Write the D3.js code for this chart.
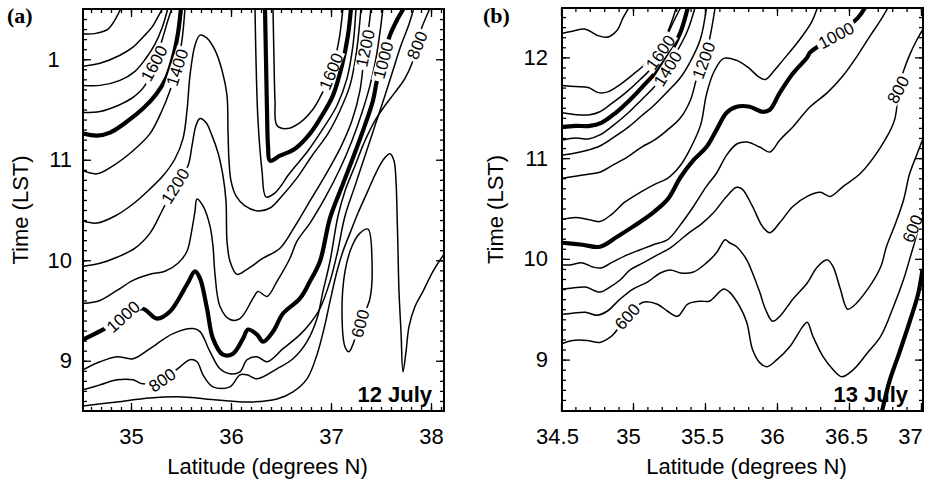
<!DOCTYPE html>
<html>
<head>
<meta charset="utf-8">
<script src="https://cdn.jsdelivr.net/npm/d3@7"></script>
<style>
  body { margin: 0; background: #fff; }
  svg text { font-family: "Liberation Sans", Arial, Helvetica, sans-serif; }
</style>
</head>
<body>
<script>
// ---------- data (latitude, time) ----------
var latMajorA = [35, 36, 37, 38];
var latLabelsA = ["35", "36", "37", "38"];
var latMajorB = [34.5, 35, 35.5, 36, 36.5, 37];
var latLabelsB = ["34.5", "35", "35.5", "36", "36.5", "37"];
var timeMajor = [9, 10, 11, 12];
var timeLabelsA = ["9", "10", "11", "1"];
var timeLabelsB = ["9", "10", "11", "12"];

// panel (a) 12 July contours
var a1900 = [[34.52,12.25],[34.66,12.26],[34.77,12.30],[34.85,12.41],[34.90,12.51]];
var a1800 = [[34.52,11.93],[34.69,11.96],[34.89,12.04],[35.02,12.12],[35.12,12.22],[35.21,12.32],[35.29,12.46],[35.32,12.51]];
var a1700 = [[34.52,11.74],[34.69,11.74],[34.89,11.79],[35.04,11.88],[35.15,12.01],[35.24,12.15],[35.31,12.31],[35.37,12.51]];
var a1600 = [[34.52,11.47],[34.69,11.48],[34.87,11.54],[35.02,11.62],[35.14,11.74],[35.23,11.96],[35.31,12.19],[35.37,12.39],[35.41,12.51]];
var a1500 = [[34.52,11.26],[34.66,11.24],[34.79,11.27],[34.96,11.38],[35.12,11.51],[35.25,11.65],[35.35,11.81],[35.42,12.02],[35.47,12.26],[35.50,12.51]];
var a1400 = [[34.52,10.89],[34.66,10.86],[34.82,10.94],[35.02,11.09],[35.19,11.26],[35.31,11.49],[35.39,11.69],[35.46,11.92],[35.51,12.19],[35.54,12.51]];
var a1300 = [[34.52,10.39],[34.66,10.37],[34.84,10.44],[35.02,10.56],[35.19,10.71],[35.32,10.84],[35.44,11.01],[35.52,11.21],[35.56,11.49],[35.59,11.84],[35.64,12.14],[35.69,12.24],[35.76,12.21],[35.84,12.09],[35.91,11.89],[35.96,11.64],[35.97,11.29],[35.98,10.99],[36.00,10.79],[36.05,10.64],[36.14,10.54],[36.27,10.49],[36.39,10.52],[36.51,10.64],[36.66,10.82],[36.81,11.04],[36.97,11.26],[37.09,11.49],[37.19,11.74],[37.25,12.04],[37.28,12.29],[37.30,12.51]];
var a1200 = [[34.52,9.94],[34.69,9.97],[34.86,10.03],[35.04,10.12],[35.19,10.27],[35.31,10.49],[35.44,10.74],[35.57,10.94],[35.61,11.14],[35.65,11.34],[35.69,11.41],[35.75,11.37],[35.81,11.24],[35.87,11.07],[35.92,10.84],[35.95,10.59],[35.96,10.19],[35.99,9.99],[36.06,9.86],[36.16,9.91],[36.32,10.02],[36.49,10.12],[36.64,10.34],[36.79,10.59],[36.94,10.84],[37.09,11.11],[37.21,11.39],[37.29,11.69],[37.34,12.11],[37.38,12.34],[37.40,12.51]];
var a1100 = [[34.52,9.57],[34.69,9.60],[34.86,9.70],[35.02,9.80],[35.19,9.86],[35.34,9.89],[35.47,9.97],[35.56,10.09],[35.61,10.31],[35.64,10.49],[35.66,10.61],[35.72,10.54],[35.79,10.34],[35.82,10.14],[35.84,9.86],[35.89,9.54],[35.99,9.41],[36.09,9.42],[36.22,9.62],[36.27,9.69],[36.36,9.64],[36.46,9.79],[36.59,10.02],[36.66,10.19],[36.79,10.37],[36.94,10.62],[37.09,10.91],[37.21,11.19],[37.31,11.47],[37.39,11.74],[37.45,12.01],[37.49,12.27],[37.52,12.51]];
var a1000 = [[34.52,9.21],[34.72,9.31],[34.92,9.42],[35.11,9.52],[35.26,9.42],[35.39,9.49],[35.56,9.76],[35.64,9.89],[35.69,9.82],[35.76,9.52],[35.82,9.22],[35.92,9.06],[36.02,9.07],[36.12,9.22],[36.17,9.31],[36.26,9.26],[36.32,9.19],[36.42,9.29],[36.52,9.47],[36.69,9.62],[36.79,9.79],[36.89,9.99],[36.99,10.42],[37.12,10.76],[37.22,11.02],[37.32,11.29],[37.42,11.59],[37.46,11.79],[37.52,11.99],[37.59,12.24],[37.66,12.39],[37.73,12.51]];
var a900 = [[34.52,8.91],[34.69,8.99],[34.86,9.04],[35.02,9.02],[35.19,9.12],[35.42,9.27],[35.62,9.32],[35.69,9.29],[35.79,9.09],[35.89,8.92],[35.99,8.87],[36.09,8.89],[36.16,9.01],[36.26,9.04],[36.36,8.99],[36.52,9.12],[36.69,9.26],[36.79,9.37],[36.89,9.52],[36.99,9.79],[37.06,10.06],[37.14,10.44],[37.24,10.74],[37.34,11.04],[37.44,11.34],[37.54,11.64],[37.62,11.89],[37.70,12.14],[37.77,12.32],[37.83,12.51]];
var a800 = [[34.52,8.71],[34.69,8.76],[34.86,8.81],[35.02,8.81],[35.12,8.77],[35.31,8.81],[35.49,8.94],[35.59,9.01],[35.66,8.99],[35.72,8.86],[35.82,8.74],[35.99,8.74],[36.09,8.86],[36.16,8.86],[36.26,8.82],[36.46,8.92],[36.62,9.02],[36.76,9.19],[36.86,9.42],[36.92,9.69],[36.99,9.99],[37.07,10.44],[37.14,10.69],[37.24,10.94],[37.34,11.19],[37.44,11.39],[37.54,11.54],[37.64,11.67],[37.74,11.81],[37.81,11.96],[37.86,12.14],[37.91,12.32],[37.96,12.44],[37.99,12.51]];
var a700 = [[34.52,8.55],[34.86,8.59],[35.19,8.63],[35.52,8.64],[35.86,8.61],[36.19,8.59],[36.46,8.62],[36.62,8.69],[36.76,8.82],[36.86,9.06],[36.94,9.36],[36.99,9.59],[37.06,9.89],[37.12,10.09],[37.19,10.27],[37.27,10.47],[37.36,10.67],[37.45,10.87],[37.53,11.01],[37.59,11.06],[37.63,10.99],[37.65,10.79],[37.66,10.49],[37.67,10.09],[37.68,9.69],[37.70,9.29],[37.72,8.89],[37.75,9.09],[37.78,9.34],[37.84,9.54],[37.92,9.69],[38.02,9.89],[38.13,10.06]];
var a600 = [[37.37,10.31],[37.41,9.99],[37.39,9.62],[37.29,9.37],[37.21,9.14],[37.18,9.09],[37.14,9.14],[37.11,9.49],[37.14,9.89],[37.21,10.14],[37.29,10.27]];
var a1500v = [[36.34,12.51],[36.35,11.99],[36.36,11.49],[36.37,11.14],[36.39,10.99],[36.49,11.04],[36.64,11.11],[36.79,11.26],[36.91,11.44],[37.02,11.64],[37.11,11.94],[37.17,12.24],[37.20,12.51]];
var a1600v = [[36.42,12.51],[36.43,11.99],[36.44,11.59],[36.46,11.34],[36.56,11.31],[36.69,11.37],[36.81,11.49],[36.89,11.62],[36.97,11.79],[37.00,11.88],[37.03,11.97],[37.08,12.19],[37.12,12.51]];
var a1400v = [[36.24,12.51],[36.25,11.99],[36.27,11.39],[36.31,10.89],[36.35,10.63],[36.44,10.67],[36.59,10.87],[36.77,11.09],[36.92,11.31],[37.06,11.54],[37.16,11.81],[37.22,12.14],[37.25,12.51]];
var labelsA = [
  [35.23, 11.96, -62, "1600"], [35.46, 11.92, -72, "1400"], [35.44, 10.74, -58, "1200"],
  [37.00, 11.88, -68, "1600"], [37.34, 12.11, -78, "1200"], [37.52, 11.99, -75, "1000"],
  [37.86, 12.14, -68, "800"], [34.92, 9.44, -42, "1000"], [35.31, 8.81, -35, "800"],
  [37.29, 9.37, -75, "600"]
];

// panel (b) 13 July contours
var b1800 = [[34.51,12.24],[34.58,12.26],[34.67,12.28],[34.75,12.22],[34.82,12.20],[34.89,12.27],[34.93,12.39],[34.97,12.49]];
var b1700 = [[34.51,11.72],[34.60,11.71],[34.69,11.70],[34.76,11.65],[34.83,11.66],[34.91,11.73],[35.00,11.83],[35.09,11.94],[35.17,12.07],[35.24,12.25],[35.30,12.49]];
var b1600 = [[34.51,11.45],[34.61,11.43],[34.70,11.43],[34.77,11.46],[34.85,11.54],[34.95,11.65],[35.05,11.78],[35.13,11.90],[35.20,12.09],[35.27,12.32],[35.33,12.49]];
var b1500 = [[34.51,11.31],[34.60,11.32],[34.70,11.32],[34.78,11.35],[34.88,11.45],[34.98,11.58],[35.08,11.73],[35.17,11.87],[35.26,12.05],[35.33,12.25],[35.38,12.49]];
var b1400 = [[34.51,11.18],[34.60,11.20],[34.69,11.19],[34.77,11.23],[34.85,11.31],[34.96,11.44],[35.06,11.58],[35.15,11.71],[35.22,11.85],[35.31,12.07],[35.38,12.27],[35.43,12.49]];
var b1300 = [[34.51,11.03],[34.60,11.05],[34.69,11.08],[34.77,11.12],[34.86,11.20],[34.97,11.31],[35.06,11.42],[35.15,11.53],[35.24,11.66],[35.33,11.80],[35.41,11.99],[35.47,12.19],[35.51,12.49]];
var b1200 = [[34.51,10.80],[34.60,10.82],[34.69,10.84],[34.77,10.86],[34.86,10.93],[34.96,11.01],[35.06,11.11],[35.15,11.18],[35.24,11.28],[35.33,11.40],[35.40,11.58],[35.44,11.78],[35.49,11.97],[35.53,12.17],[35.57,12.49]];
var b1100 = [[34.51,10.39],[34.60,10.41],[34.69,10.39],[34.77,10.37],[34.85,10.44],[34.94,10.56],[35.05,10.66],[35.15,10.74],[35.24,10.80],[35.33,10.93],[35.40,11.10],[35.47,11.33],[35.51,11.63],[35.56,11.85],[35.63,11.99],[35.72,11.97],[35.80,11.90],[35.87,11.81],[35.92,11.78],[35.97,11.85],[36.04,11.97],[36.11,12.09],[36.18,12.22],[36.24,12.35],[36.28,12.49]];
var b1000 = [[34.51,10.16],[34.65,10.14],[34.77,10.12],[34.89,10.22],[35.00,10.32],[35.14,10.46],[35.24,10.59],[35.33,10.81],[35.42,10.98],[35.51,11.11],[35.58,11.28],[35.65,11.45],[35.72,11.51],[35.81,11.51],[35.90,11.46],[35.95,11.48],[36.02,11.65],[36.11,11.84],[36.21,12.00],[36.23,12.05],[36.41,12.22],[36.56,12.39],[36.61,12.49]];
var b900 = [[34.51,9.94],[34.56,9.94],[34.65,9.96],[34.72,9.92],[34.78,9.91],[34.86,9.97],[34.96,10.04],[35.05,10.09],[35.14,10.14],[35.24,10.19],[35.33,10.34],[35.42,10.52],[35.51,10.72],[35.58,10.85],[35.65,11.03],[35.72,11.14],[35.79,11.16],[35.88,11.11],[35.95,11.06],[36.02,11.18],[36.11,11.31],[36.23,11.51],[36.35,11.65],[36.46,11.82],[36.56,12.02],[36.65,12.22],[36.72,12.37],[36.77,12.49]];
var b800 = [[34.51,9.70],[34.58,9.71],[34.67,9.72],[34.77,9.67],[34.84,9.72],[34.91,9.79],[34.98,9.89],[35.07,9.96],[35.17,10.04],[35.26,10.11],[35.33,10.19],[35.40,10.27],[35.47,10.34],[35.56,10.46],[35.65,10.62],[35.72,10.71],[35.76,10.69],[35.83,10.52],[35.90,10.32],[35.95,10.26],[36.02,10.36],[36.11,10.52],[36.21,10.62],[36.30,10.66],[36.37,10.62],[36.46,10.72],[36.58,10.85],[36.72,11.11],[36.81,11.35],[36.83,11.48],[36.84,11.68],[36.88,11.87],[36.92,12.02],[36.97,12.17],[37.01,12.27]];
var b700 = [[34.51,9.45],[34.58,9.46],[34.67,9.47],[34.75,9.44],[34.82,9.48],[34.91,9.60],[35.00,9.70],[35.10,9.77],[35.19,9.86],[35.26,9.89],[35.33,9.86],[35.42,9.87],[35.51,9.96],[35.58,10.06],[35.64,10.19],[35.67,10.16],[35.72,10.12],[35.79,9.99],[35.83,9.86],[35.88,9.67],[35.92,9.50],[35.97,9.38],[36.02,9.43],[36.11,9.60],[36.21,9.76],[36.28,9.92],[36.35,9.99],[36.39,9.92],[36.44,9.70],[36.49,9.50],[36.53,9.53],[36.63,9.70],[36.72,9.92],[36.76,10.12],[36.82,10.34],[36.88,10.59],[36.92,10.84],[36.97,11.03],[37.01,11.18]];
var b600 = [[34.51,9.16],[34.58,9.19],[34.68,9.19],[34.77,9.17],[34.84,9.22],[34.87,9.26],[34.96,9.43],[35.07,9.57],[35.17,9.55],[35.24,9.48],[35.31,9.43],[35.38,9.55],[35.47,9.58],[35.53,9.58],[35.63,9.70],[35.67,9.67],[35.74,9.53],[35.79,9.37],[35.83,9.10],[35.88,8.97],[35.93,8.93],[36.00,9.00],[36.09,9.13],[36.18,9.33],[36.21,9.37],[36.25,9.23],[36.32,9.03],[36.39,8.90],[36.45,8.83],[36.53,8.90],[36.63,9.07],[36.72,9.23],[36.81,9.53],[36.88,9.80],[36.92,9.99],[36.97,10.24],[37.01,10.47]];
var b500 = [[36.73,8.49],[36.78,8.78],[36.85,9.07],[36.92,9.37],[36.98,9.65],[37.01,9.89]];
var labelsB = [
  [35.19, 12.05, -55, "1600"], [35.24, 11.89, -58, "1400"], [35.49, 11.97, -70, "1200"],
  [36.41, 12.22, -28, "1000"], [36.84, 11.68, -62, "800"], [34.96, 9.43, -48, "600"],
  [36.94, 10.30, -68, "600"]
];

// ---------- drawing ----------
var svg = d3.select("body").append("svg").attr("width", 926).attr("height", 484);
var defs = svg.append("defs");

var panels = [
  { id: "a", left: 83, right: 444, top: 9, bottom: 411, lat: [34.52, 38.13], time: [8.5, 12.5],
    major: latMajorA, majorLabels: latLabelsA, labelShift: [0, 0, 0, 0],
    timeLabels: timeLabelsA, yPad: 11, yTitle: 28,
    title: "(a)", titleX: 7, date: "12 July", dateX: 432,
    lines: [a1900, a1800, a1700, a1600, a1400, a1300, a1200, a1100, a900, a800, a700, a1600v, a1400v],
    bold: [a1500, a1000, a1500v], closed: [a600], labels: labelsA },
  { id: "b", left: 562, right: 923, top: 8, bottom: 411, lat: [34.507, 37.014], time: [8.49, 12.49],
    major: latMajorB, majorLabels: latLabelsB, labelShift: [-4, -5, -3, -5, -3, -11],
    timeLabels: timeLabelsB, yPad: 14, yTitle: 503,
    title: "(b)", titleX: 483, date: "13 July", dateX: 908,
    lines: [b1800, b1700, b1600, b1400, b1300, b1200, b1100, b900, b800, b700, b600],
    bold: [b1500, b1000, b500], closed: [], labels: labelsB }
];

panels.forEach(function(p) {
  var x = d3.scaleLinear().domain(p.lat).range([p.left, p.right]);
  var y = d3.scaleLinear().domain(p.time).range([p.bottom, p.top]);
  var w = p.right - p.left, h = p.bottom - p.top;

  defs.append("clipPath").attr("id", "clip-" + p.id)
    .append("rect").attr("x", p.left).attr("y", p.top).attr("width", w).attr("height", h);

  // mask cuts the contour lines where the labels sit
  var mask = defs.append("mask").attr("id", "mask-" + p.id)
    .attr("maskUnits", "userSpaceOnUse")
    .attr("x", 0).attr("y", 0).attr("width", 926).attr("height", 484);
  mask.append("rect").attr("width", 926).attr("height", 484).attr("fill", "white");
  mask.selectAll("rect.lbl").data(p.labels).enter().append("rect")
    .attr("class", "lbl")
    .attr("x", function(d) { return -d[3].length * 4.9 - 2; })
    .attr("y", -6.5)
    .attr("width", function(d) { return d[3].length * 9.8 + 4; })
    .attr("height", 13)
    .attr("fill", "black")
    .attr("transform", function(d) { return "translate(" + x(d[0]) + "," + y(d[1]) + ") rotate(" + d[2] + ")"; });

  var line = d3.line().x(function(d) { return x(d[0]); }).y(function(d) { return y(d[1]); })
    .curve(d3.curveCatmullRom.alpha(0.5));
  var loop = d3.line().x(function(d) { return x(d[0]); }).y(function(d) { return y(d[1]); })
    .curve(d3.curveCatmullRomClosed.alpha(0.5));

  var cg = svg.append("g").attr("clip-path", "url(#clip-" + p.id + ")")
    .append("g").attr("mask", "url(#mask-" + p.id + ")");
  cg.selectAll("path.thin").data(p.lines).enter().append("path")
    .attr("class", "thin").attr("d", line)
    .attr("fill", "none").attr("stroke", "#000").attr("stroke-width", 1.5);
  cg.selectAll("path.loop").data(p.closed).enter().append("path")
    .attr("class", "loop").attr("d", loop)
    .attr("fill", "none").attr("stroke", "#000").attr("stroke-width", 1.5);
  cg.selectAll("path.bold").data(p.bold).enter().append("path")
    .attr("class", "bold").attr("d", line)
    .attr("fill", "none").attr("stroke", "#000").attr("stroke-width", 4.2);

  svg.append("g").selectAll("text").data(p.labels).enter().append("text")
    .attr("transform", function(d) { return "translate(" + x(d[0]) + "," + y(d[1]) + ") rotate(" + d[2] + ")"; })
    .attr("text-anchor", "middle").attr("dy", "0.36em")
    .style("font-size", "17px")
    .text(function(d) { return d[3]; });

  // ticks
  var minorLat = d3.range(Math.ceil(p.lat[0] * 10), Math.floor(p.lat[1] * 10) + 1).map(function(v) { return v / 10; });
  var minorTime = d3.range(86, 125).map(function(v) { return v / 10; });
  function noDomain(g) { g.select(".domain").remove(); g.selectAll("line").attr("stroke-width", 1.3); }

  svg.append("g").attr("transform", "translate(0," + p.bottom + ")")
    .call(d3.axisBottom(x).tickValues(minorLat).tickSize(-4).tickFormat("")).call(noDomain);
  svg.append("g").attr("transform", "translate(0," + p.top + ")")
    .call(d3.axisTop(x).tickValues(minorLat).tickSize(-4).tickFormat("")).call(noDomain);
  svg.append("g").attr("transform", "translate(" + p.left + ",0)")
    .call(d3.axisLeft(y).tickValues(minorTime).tickSize(-4).tickFormat("")).call(noDomain);
  svg.append("g").attr("transform", "translate(" + p.right + ",0)")
    .call(d3.axisRight(y).tickValues(minorTime).tickSize(-4).tickFormat("")).call(noDomain);

  var xb = svg.append("g").attr("transform", "translate(0," + p.bottom + ")")
    .call(d3.axisBottom(x).tickValues(p.major).tickSize(-8).tickPadding(17)
      .tickFormat(function(d, i) { return p.majorLabels[i]; })).call(noDomain);
  xb.selectAll("text").style("font-size", "22px").attr("fill", "#000")
    .attr("dx", function(d, i) { return p.labelShift[i]; });
  svg.append("g").attr("transform", "translate(0," + p.top + ")")
    .call(d3.axisTop(x).tickValues(p.major).tickSize(-8).tickFormat("")).call(noDomain);

  var yl = svg.append("g").attr("transform", "translate(" + p.left + ",0)")
    .call(d3.axisLeft(y).tickValues(timeMajor).tickSize(-8).tickPadding(p.yPad)
      .tickFormat(function(d, i) { return p.timeLabels[i]; })).call(noDomain);
  yl.selectAll("text").style("font-size", "22px").attr("fill", "#000")
    .attr("dx", function(d, i) { return p.timeLabels[i] === "1" ? "-0.556em" : 0; });
  svg.append("g").attr("transform", "translate(" + p.right + ",0)")
    .call(d3.axisRight(y).tickValues(timeMajor).tickSize(-8).tickFormat("")).call(noDomain);

  // frame
  svg.append("rect").attr("x", p.left).attr("y", p.top).attr("width", w).attr("height", h)
    .attr("fill", "none").attr("stroke", "#000").attr("stroke-width", 2);

  // texts
  svg.append("text").attr("x", (p.left + p.right) / 2 + 4).attr("y", 474)
    .attr("text-anchor", "middle").style("font-size", "22px").text("Latitude (degrees N)");
  svg.append("text").attr("transform", "translate(" + p.yTitle + "," + ((p.top + p.bottom) / 2) + ") rotate(-90)")
    .attr("text-anchor", "middle").style("font-size", "22px").text("Time (LST)");
  svg.append("text").attr("x", p.titleX).attr("y", 23)
    .style("font-family", "'Liberation Serif', 'Times New Roman', serif")
    .style("font-size", "22px").style("font-weight", "bold").text(p.title);
  svg.append("text").attr("x", p.dateX).attr("y", 402).attr("text-anchor", "end")
    .style("font-size", "22px").style("font-weight", "bold").text(p.date);
});
</script>
</body>
</html>
